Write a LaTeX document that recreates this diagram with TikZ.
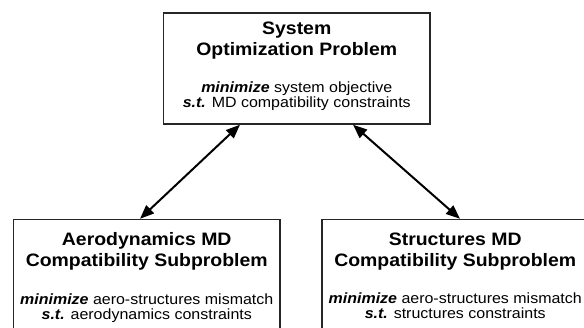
\documentclass[tikz,border=0pt]{standalone}
\usepackage{fontspec}
\setmainfont{Liberation Sans}[FakeStretch=1.08]
\usetikzlibrary{positioning,arrows.meta}
\tikzset{>={Triangle[length=14pt,width=11pt]}}

\begin{document}
\begin{tikzpicture}[x=1pt,y=-1pt,
		box/.style={draw=black!85,line width=1.4pt,minimum width=266.5pt,minimum height=111pt,inner sep=0pt},
		headtext/.style={font=\fontsize{18}{21}\selectfont\bfseries,align=center,inner sep=0pt},
		bodytext/.style={font=\fontsize{14.8}{15}\selectfont,align=center,inner sep=0pt},
		link/.style={<->,line width=2pt}]
	\def\gap{23pt}
	\useasboundingbox (0,0) rectangle (584,327);
	% the three problem boxes
	\node[box] (sys) at (296.75,68.5) {};
	\node[box] (aero) at (146.75,275) {};
	\node[box] (struc) at (455.25,275) {};
	\node[headtext,anchor=north] (systitle) at ([yshift=-9pt]sys.north) {System\\Optimization Problem};
	\node[bodytext,below=\gap of systitle] (sysbody) {\textbf{\textit{minimize}} system objective\\\textbf{\textit{s.t.}} MD compatibility constraints};
	\node[headtext,anchor=north] (aerotitle) at ([yshift=-13.5pt]aero.north) {Aerodynamics MD\\Compatibility Subproblem};
	\node[bodytext,below=\gap of aerotitle] (aerobody) {\textbf{\textit{minimize}} aero-structures mismatch\\\textbf{\textit{s.t.}} aerodynamics constraints};
	\node[headtext,anchor=north] (structitle) at ([yshift=-13.5pt]struc.north) {Structures MD\\Compatibility Subproblem};
	\node[bodytext,below=\gap of structitle] (strucbody) {\textbf{\textit{minimize}} aero-structures mismatch\\\textbf{\textit{s.t.}} structures constraints};
	% coupling
	\draw[link] ([xshift=-56.75pt]sys.south) -- ([xshift=-6.75pt]aero.north);
	\draw[link] ([xshift=56.25pt]sys.south) -- ([xshift=4.75pt]struc.north);
\end{tikzpicture}
\end{document}
